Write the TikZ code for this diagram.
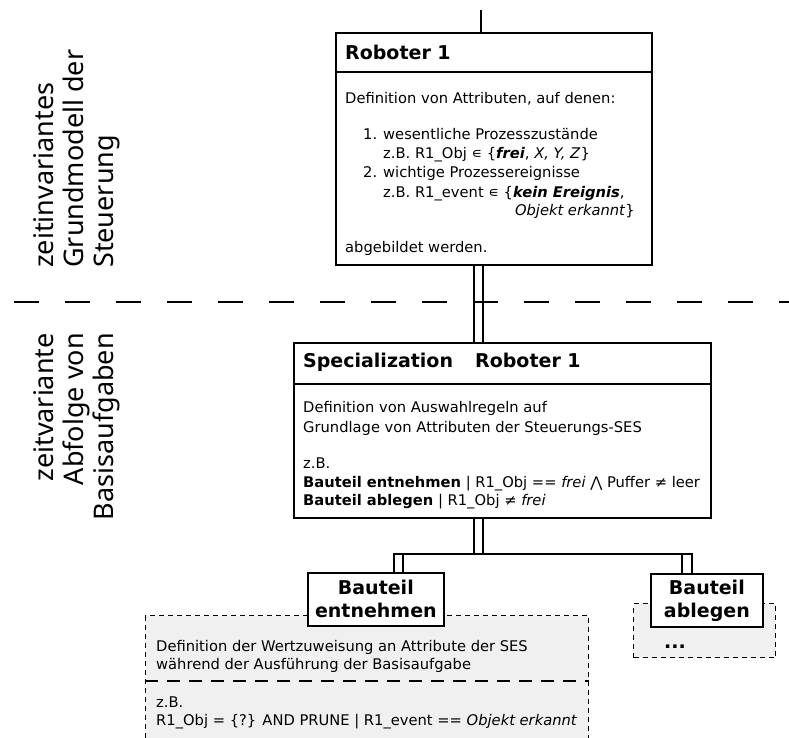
\documentclass[tikz,border=0pt]{standalone}
\usepackage{fontspec}
\setmainfont{DejaVu Sans}
\newfontfamily\sidefont{Noto Sans}
\definecolor{panel}{HTML}{F0F0F0}
\newcommand\bodysize{\fontsize{14.7}{19}\selectfont}
\newcommand\headsize{\fontsize{19}{23}\selectfont\bfseries}
\newcommand\sidesize{\sidefont\fontsize{27}{30}\selectfont}
\tikzset{
  box/.style={draw=black, line width=1.7pt, fill=white, inner sep=0pt, anchor=north west},
  headbox/.style={box, align=center, font=\headsize},
  panelbox/.style={draw=black, line width=1.4pt, fill=panel, dash pattern=on 5pt off 4pt, inner sep=0pt, anchor=north west},
  rule/.style={line width=1.5pt},
  link/.style={line width=1.5pt},
  txt/.style={anchor=base west, inner sep=0pt, font=\bodysize},
  txtr/.style={anchor=base east, inner sep=0pt, font=\bodysize},
  ttl/.style={anchor=base west, inner sep=0pt, font=\headsize},
  side/.style={rotate=90, inner sep=0pt, font=\sidesize},
}
\begin{document}
\begin{tikzpicture}[x=1pt, y=-1pt]
\useasboundingbox (0,0) rectangle (789,738);
\clip (0,0) rectangle (789,738);

% layer separator
\coordinate (sepL) at (14,302);
\coordinate (sepR) at (789,302);
\draw[line width=2pt, dash pattern=on 25pt off 26pt] (sepL) -- (sepR);

% side captions
\node[side, anchor=base west] (s1) at (53,268) {zeitinvariantes};
\node[side, anchor=base west] (s2) at (83,268) {Grundmodell der};
\node[side, anchor=base west] (s3) at (113,268) {Steuerung};
\node[side, anchor=base east] (s4) at (53,333) {zeitvariante};
\node[side, anchor=base east] (s5) at (83,333) {Abfolge von};
\node[side, anchor=base east] (s6) at (113,333) {Basisaufgaben};

% dashed panels for the base tasks
\node[panelbox, minimum width=443pt, minimum height=140pt] (p1) at (145,615) {};
\node[panelbox, minimum width=142pt, minimum height=54pt] (p2) at (633,603) {};
\draw[line width=2.4pt, dash pattern=on 13pt off 9pt] (p1.west |- 0,681) -- (p1.east |- 0,681);

% main boxes
\node[box, minimum width=316pt, minimum height=232pt] (r1) at (335,32) {};
\node[box, minimum width=417pt, minimum height=175pt] (r2) at (293,342) {};
\draw[rule] (r1.west |- 0,72) -- (r1.east |- 0,72);
\draw[rule] (r2.west |- 0,384) -- (r2.east |- 0,384);

% incoming line
\coordinate (top) at (481,10);
\draw[link] (top) -- (top |- r1.north);

% double connectors
\coordinate (dl) at (474,0);
\coordinate (dr) at (483,0);
\coordinate (fork) at (0,554);
\coordinate (el) at (394,0);
\coordinate (er) at (403,0);
\coordinate (al) at (682,0);
\coordinate (ar) at (692,0);

\node[headbox, minimum width=136pt, minimum height=53pt] (e) at (307,572) {Bauteil\\entnehmen};
\node[headbox, minimum width=112pt, minimum height=53pt] (a) at (650,573) {Bauteil\\ablegen};

\draw[link] (dl |- r1.south) -- (dl |- r2.north);
\draw[link] (dr |- r1.south) -- (dr |- r2.north);
\draw[link] (dl |- r2.south) -- (dl |- fork);
\draw[link] (dr |- r2.south) -- (dr |- fork);
\draw[link] (el |- e.north) -- (el |- fork) -- (ar |- fork) -- (ar |- a.north);
\draw[link] (er |- fork) -- (er |- e.north);
\draw[link] (al |- fork) -- (al |- a.north);

% texts of the first box
\node[ttl] (r1t) at (345,60) {Roboter 1};
\node[txt] (r1a) at (345,104) {Definition von Attributen, auf denen:};
\node[txt] (r1n1) at (363,140) {1.};
\node[txt] (r1b) at (383,140) {wesentliche Prozesszustände};
\node[txt] (r1c) at (383,159) {z.B. R1\_Obj ∊ \{\textbf{\textit{frei}}, \textit{X, Y, Z}\}};
\node[txt] (r1n2) at (363,178) {2.};
\node[txt] (r1d) at (383,178) {wichtige Prozessereignisse};
\node[txt] (r1e) at (383,197) {z.B. R1\_event ∊ \{\textbf{\textit{kein Ereignis}},};
\node[txtr] (r1f) at (635,215) {\textit{Objekt erkannt}\}};
\node[txt] (r1g) at (345,252) {abgebildet werden.};

% texts of the second box
\node[ttl] (r2t) at (303,367) {Specialization};
\node[ttl] (r2u) at (475,367) {Roboter 1};
\node[txt] (r2a) at (303,412) {Definition von Auswahlregeln auf};
\node[txt] (r2b) at (303,432) {Grundlage von Attributen der Steuerungs-SES};
\node[txt] (r2c) at (303,468) {z.B.};
\node[txt] (r2d) at (303,487) {\textbf{Bauteil entnehmen} | R1\_Obj == \textit{frei} ⋀ Puffer ≠ leer};
\node[txt] (r2e) at (303,505) {\textbf{Bauteil ablegen} | R1\_Obj ≠ \textit{frei}};

% texts of the panels
\node[txt] (p1a) at (156,651) {Definition der Wertzuweisung an Attribute der SES};
\node[txt] (p1b) at (156,669) {während der Ausführung der Basisaufgabe};
\node[txt] (p1c) at (156,707) {z.B.};
\node[txt] (p1d) at (156,725) {R1\_Obj = \{?\} AND PRUNE | R1\_event == \textit{Objekt erkannt}};
\node[ttl] (p2a) at (664,648) {...};
\end{tikzpicture}
\end{document}
